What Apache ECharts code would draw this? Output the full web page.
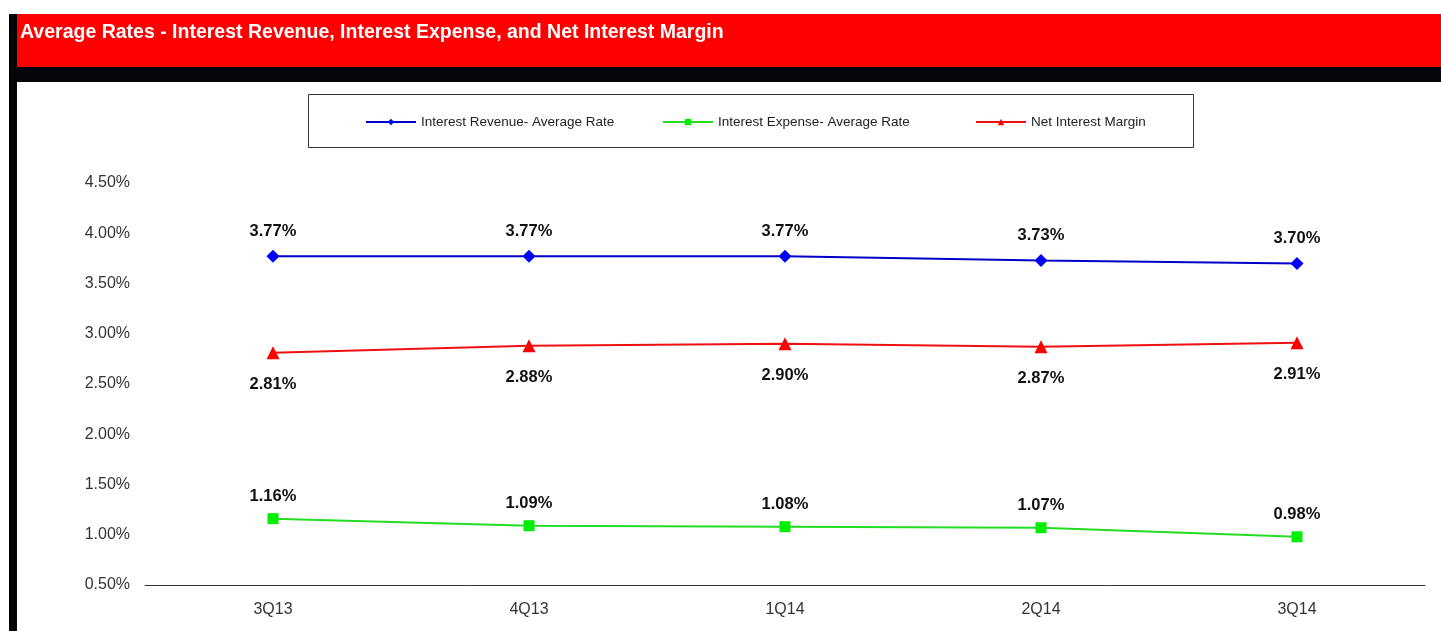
<!DOCTYPE html>
<html>
<head>
<meta charset="utf-8">
<script src="https://cdn.jsdelivr.net/npm/echarts@6/dist/echarts.min.js"></script>
<style>
  html, body { margin: 0; padding: 0; background: #fff; }
  #container { width: 1441px; height: 631px; }
</style>
</head>
<body>
<div id="container"></div>
<script>
var dom = document.getElementById("container");
var myChart = echarts.init(dom, null, { renderer: "canvas" });

const quarters = ["3Q13", "4Q13", "1Q14", "2Q14", "3Q14"];
const revenueRate = [3.77, 3.77, 3.77, 3.73, 3.70];
const expenseRate = [1.16, 1.09, 1.08, 1.07, 0.98];
const netMargin = [2.81, 2.88, 2.90, 2.87, 2.91];
const seriesNames = [
  "Interest Revenue- Average Rate",
  "Interest Expense- Average Rate",
  "Net Interest Margin",
];

const labelFont = {
  show: true,
  color: "#111",
  fontFamily: "Liberation Sans",
  fontWeight: "bold",
  fontSize: 16.5,
  formatter: function (p) {
    return p.value.toFixed(2) + "%";
  },
};

// one legend per entry so each can sit where the original had it
const legendLefts = [365, 662, 975];
const legends = seriesNames.map(function (name, i) {
  return {
    data: [name],
    left: legendLefts[i],
    top: 115,
    padding: 0,
    itemWidth: 50,
    itemHeight: 8,
    textStyle: { fontSize: 13.5, color: "#222", fontFamily: "Liberation Sans" },
  };
});

var option = {
  animation: false,
  textStyle: { fontFamily: "Liberation Sans" },
  graphic: {
    elements: [
      { type: "rect", shape: { x: 16, y: 14, width: 1425, height: 53 }, style: { fill: "#ff0000" } },
      { type: "rect", shape: { x: 9, y: 67, width: 1432, height: 15 }, style: { fill: "#05060a" } },
      { type: "rect", shape: { x: 9, y: 14, width: 8, height: 617 }, style: { fill: "#05060a" } },
      {
        type: "text",
        left: 20,
        top: 23,
        style: {
          text: "Average Rates - Interest Revenue, Interest Expense, and Net Interest Margin",
          fill: "#fff",
          font: "bold 19.5px 'Liberation Sans'",
        },
      },
      {
        type: "rect",
        shape: { x: 308.5, y: 94.5, width: 885, height: 53 },
        style: { fill: "none", stroke: "#333", lineWidth: 1 },
      },
    ],
  },
  legend: legends,
  grid: { left: 145, right: 16, top: 183, bottom: 46 },
  xAxis: {
    type: "category",
    data: quarters,
    boundaryGap: true,
    axisLine: { lineStyle: { color: "#333" } },
    axisTick: { show: false },
    axisLabel: { fontSize: 16, color: "#333", margin: 17 },
  },
  yAxis: {
    type: "value",
    min: 0.5,
    max: 4.5,
    interval: 0.5,
    splitLine: { show: false },
    axisLine: { show: false },
    axisTick: { show: false },
    axisLabel: {
      fontSize: 16,
      color: "#333",
      margin: 15,
      formatter: function (v) {
        return v.toFixed(2) + "%";
      },
    },
  },
  series: [
    {
      name: seriesNames[0],
      type: "line",
      data: revenueRate,
      symbol: "diamond",
      symbolSize: 13,
      lineStyle: { color: "#0000c8", width: 2 },
      itemStyle: { color: "#0000ff" },
      label: Object.assign({}, labelFont, { position: "top", distance: 10 }),
    },
    {
      name: seriesNames[1],
      type: "line",
      data: expenseRate,
      symbol: "rect",
      symbolSize: 11,
      lineStyle: { color: "#22dd22", width: 2 },
      itemStyle: { color: "#00ee00" },
      label: Object.assign({}, labelFont, { position: "top", distance: 8 }),
    },
    {
      name: seriesNames[2],
      type: "line",
      data: netMargin,
      symbol: "triangle",
      symbolSize: 13,
      lineStyle: { color: "#ee1111", width: 2 },
      itemStyle: { color: "#ff0000" },
      label: Object.assign({}, labelFont, { position: "bottom", distance: 17 }),
    },
  ],
};

myChart.setOption(option);
window.addEventListener("resize", myChart.resize);
</script>
</body>
</html>
